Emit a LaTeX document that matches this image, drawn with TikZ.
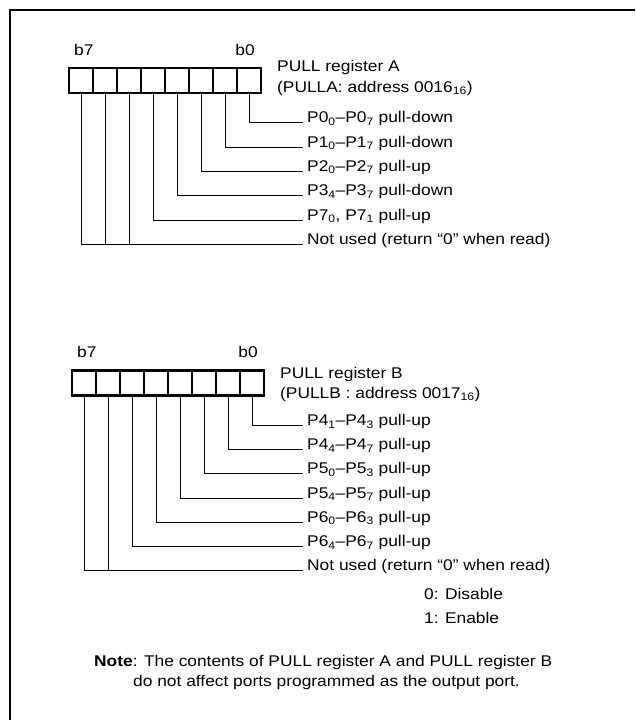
\documentclass[tikz,border=0pt]{standalone}
\usepackage{fontspec}
\setmainfont{Liberation Sans}[FakeStretch=1.12]
\newcommand\sbs[1]{\textsubscript{#1}}
\newcommand\lblfont{\fontsize{15.5}{18}\selectfont}
\tikzset{
  cell/.style={draw, line width=1.1pt, minimum width=24pt, minimum height=25pt, inner sep=0pt, outer sep=0pt},
  lbl/.style={anchor=base west, inner sep=0pt, font=\lblfont},
  lble/.style={anchor=base east, inner sep=0pt, font=\lblfont},
  conn/.style={line width=0.9pt},
  regframe/.style={line width=2.2pt},
  border/.style={line width=2pt},
}
\begin{document}
\begin{tikzpicture}[x=1pt,y=-1pt]
\useasboundingbox (0,0) rectangle (635,720);
\coordinate (bl) at (10,720);
\coordinate (tl) at (10,10);
\coordinate (tr) at (635,10);
\draw[border] (bl) -- (tl) -- (tr);

% ---------- Register A ----------
\foreach \b in {0,...,7} \node[cell] (A\b) at ({81+24*(7-\b)},80.5) {};
\draw[regframe] (A7.north west) rectangle (A0.south east);
\node[lbl] (bA7) at (74,55) {b7};
\node[lble] (bA0) at (255,55) {b0};
\node[lbl] (TA1) at (277,71) {PULL register A};
\node[lbl] (TA2) at (277,92) {(PULLA: address 0016\sbs{16})};

\node[lbl] (LA0) at (307,122.7) {P0\sbs{0}–P0\sbs{7} pull-down};
\node[lbl] (LA1) at (307,147.0) {P1\sbs{0}–P1\sbs{7} pull-down};
\node[lbl] (LA2) at (307,171.3) {P2\sbs{0}–P2\sbs{7} pull-up};
\node[lbl] (LA3) at (307,195.6) {P3\sbs{4}–P3\sbs{7} pull-down};
\node[lbl] (LA4) at (307,220.0) {P7\sbs{0}, P7\sbs{1} pull-up};
\node[lbl] (LA5) at (307,244.2) {Not used (return “0” when read)};

\draw[conn] (A0.south) |- ([xshift=-4pt]LA0.base west);
\draw[conn] (A1.south) |- ([xshift=-4pt]LA1.base west);
\draw[conn] (A2.south) |- ([xshift=-4pt]LA2.base west);
\draw[conn] (A3.south) |- ([xshift=-4pt]LA3.base west);
\draw[conn] (A4.south) |- ([xshift=-4pt]LA4.base west);
\draw[conn] (A7.south) |- ([xshift=-4pt]LA5.base west);
\draw[conn] (A6.south) -- (A6.south |- LA5.base);
\draw[conn] (A5.south) -- (A5.south |- LA5.base);

% ---------- Register B ----------
\foreach \b in {0,...,7} \node[cell] (B\b) at ({84+24*(7-\b)},383) {};
\draw[regframe] (B7.north west) rectangle (B0.south east);
\node[lbl] (bB7) at (77,357) {b7};
\node[lble] (bB0) at (258,357) {b0};
\node[lbl] (TB1) at (280,378) {PULL register B};
\node[lbl] (TB2) at (280,398) {(PULLB : address 0017\sbs{16})};

\node[lbl] (LB0) at (307,425.5) {P4\sbs{1}–P4\sbs{3} pull-up};
\node[lbl] (LB1) at (307,449.7) {P4\sbs{4}–P4\sbs{7} pull-up};
\node[lbl] (LB2) at (307,473.9) {P5\sbs{0}–P5\sbs{3} pull-up};
\node[lbl] (LB3) at (307,498.1) {P5\sbs{4}–P5\sbs{7} pull-up};
\node[lbl] (LB4) at (307,522.3) {P6\sbs{0}–P6\sbs{3} pull-up};
\node[lbl] (LB5) at (307,546.5) {P6\sbs{4}–P6\sbs{7} pull-up};
\node[lbl] (LB6) at (307,570.7) {Not used (return “0” when read)};

\draw[conn] (B0.south) |- ([xshift=-4pt]LB0.base west);
\draw[conn] (B1.south) |- ([xshift=-4pt]LB1.base west);
\draw[conn] (B2.south) |- ([xshift=-4pt]LB2.base west);
\draw[conn] (B3.south) |- ([xshift=-4pt]LB3.base west);
\draw[conn] (B4.south) |- ([xshift=-4pt]LB4.base west);
\draw[conn] (B5.south) |- ([xshift=-4pt]LB5.base west);
\draw[conn] (B7.south) |- ([xshift=-4pt]LB6.base west);
\draw[conn] (B6.south) -- (B6.south |- LB6.base);

% ---------- Legend and note ----------
\node[lbl] (dis) at (424,599) {0: Disable};
\node[lbl] (ena) at (424,623) {1: Enable};
\node[lbl] (note1) at (94,666) {\textbf{Note}: The contents of PULL register A and PULL register B};
\node[lbl] (note2) at (133,686) {do not affect ports programmed as the output port.};
\end{tikzpicture}
\end{document}
